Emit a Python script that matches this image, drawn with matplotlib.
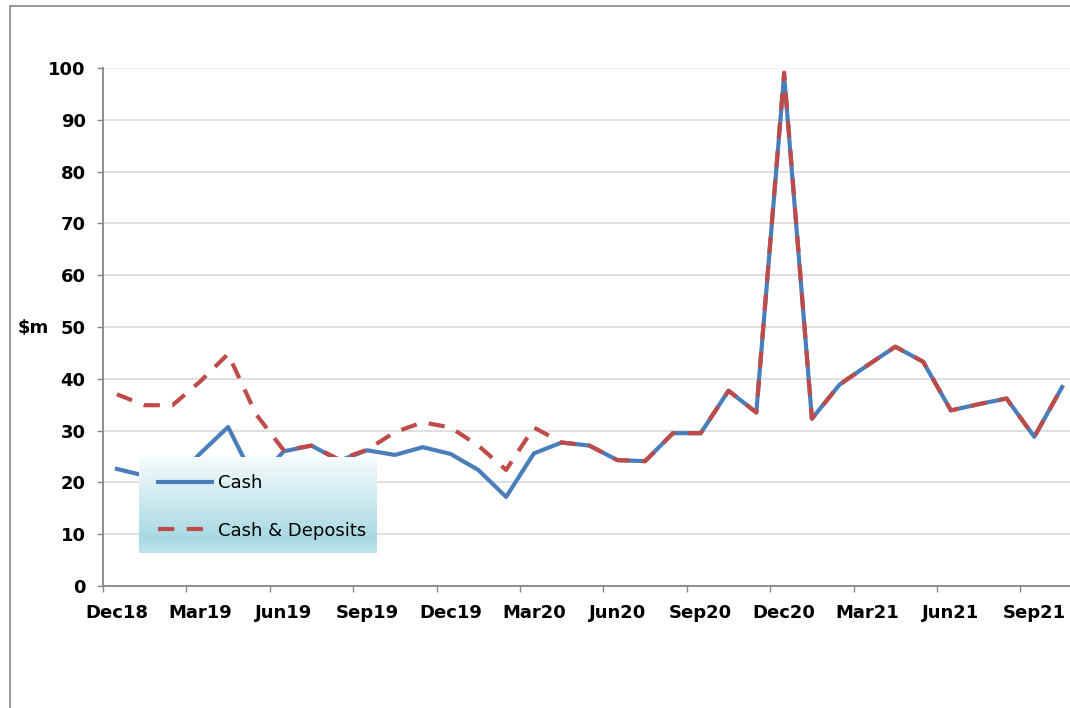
import matplotlib.pyplot as plt
import numpy as np
from matplotlib.lines import Line2D

# monthly data, Dec18 .. Oct21
months = ['Dec18', 'Jan19', 'Feb19', 'Mar19', 'Apr19', 'May19', 'Jun19', 'Jul19', 'Aug19',
          'Sep19', 'Oct19', 'Nov19', 'Dec19', 'Jan20', 'Feb20', 'Mar20', 'Apr20', 'May20',
          'Jun20', 'Jul20', 'Aug20', 'Sep20', 'Oct20', 'Nov20', 'Dec20', 'Jan21', 'Feb21',
          'Mar21', 'Apr21', 'May21', 'Jun21', 'Jul21', 'Aug21', 'Sep21', 'Oct21']
cash = [22.6, 21.3, 20.2, 25.6, 30.7, 20.0, 26.0, 27.1, 24.2, 26.2, 25.3, 26.8, 25.5,
        22.4, 17.2, 25.6, 27.7, 27.1, 24.3, 24.1, 29.5, 29.5, 37.7, 33.5, 98.6, 32.3,
        38.9, 42.6, 46.2, 43.3, 33.9, 35.1, 36.2, 28.8, 38.4]
cash_dep = [37.0, 34.9, 34.9, 39.5, 44.8, 33.2, 26.2, 27.1, 24.4, 26.3, 29.7, 31.6, 30.6,
            27.1, 22.4, 30.6, 27.7, 27.1, 24.3, 24.1, 29.5, 29.5, 37.7, 33.5, 99.1, 32.3,
            38.9, 42.6, 46.2, 43.3, 33.9, 35.1, 36.2, 28.8, 38.4]
tick_labels = ['Dec18', 'Mar19', 'Jun19', 'Sep19', 'Dec19', 'Mar20', 'Jun20', 'Sep20',
               'Dec20', 'Mar21', 'Jun21', 'Sep21']

W, H = 1070, 708
fig = plt.figure(figsize=(W / 100, H / 100), dpi=100)
fig.patch.set_facecolor('white')

# outer chart-area border (left and top only visible)
fig.add_artist(Line2D([10 / W, 10 / W, 1], [0, 1 - 6 / H, 1 - 6 / H],
                      transform=fig.transFigure, color='#8f8f8f', lw=1.3))

ax = fig.add_axes([103 / W, 1 - 586 / H, 973 / W, 518 / H])
x = np.arange(len(months)) + 0.5
ax.plot(x, cash, color='#4a7ebb', lw=3, label='Cash', zorder=3)
ax.plot(x, cash_dep, color='#be4b48', lw=3, dashes=(3.9, 3.0), label='Cash & Deposits', zorder=4)

ax.set_xlim(0, len(months))
ax.set_ylim(0, 100)
ax.set_yticks(range(0, 101, 10))
# labels sit on the first month of each quarter, tick marks on the boundaries
ax.set_xticks(np.arange(0, 34, 3) + 0.5)
ax.set_xticklabels(tick_labels)
ax.set_xticks(range(0, 34, 3), minor=True)
for lab in ax.get_xticklabels() + ax.get_yticklabels():
    lab.set_fontweight('bold')
    lab.set_fontsize(13)
ax.tick_params(axis='x', which='major', length=0, pad=13)
ax.tick_params(axis='x', which='minor', direction='out', length=4.5, color='#868686', width=1)
ax.tick_params(axis='y', direction='out', length=4.5, color='#868686', width=1, pad=8)

ax.grid(axis='y', color='#d9d9d9', lw=1.2)
ax.yaxis.get_gridlines()[-1].set_color('#eef2f7')
ax.set_axisbelow(True)
for s in ['top', 'right']:
    ax.spines[s].set_visible(False)
for s in ['left', 'bottom']:
    ax.spines[s].set_color('#868686')
    ax.spines[s].set_linewidth(1.3)

fig.text(18 / W, 1 - 328 / H, '$m', fontsize=13, fontweight='bold', va='center', ha='left')

# legend box with gradient fill
lx0, ly0, lx1, ly1 = 139, 457, 377, 553
lax = fig.add_axes([lx0 / W, 1 - ly1 / H, (lx1 - lx0) / W, (ly1 - ly0) / H], zorder=5)
top = np.array([0.96, 0.985, 0.99])
mid = np.array([0.66, 0.85, 0.89])
t = np.linspace(0, 1, 100)[:, None]
grad = np.where(t < 0.85, t / 0.85, 1 - (t - 0.85) / 0.15 * 0.3)
img = top + (mid - top) * grad
lax.imshow(img[:, None, :].repeat(2, axis=1), aspect='auto', extent=[0, 1, 0, 1])
lax.set_axis_off()

handles, labels = ax.get_legend_handles_labels()
leg = fig.legend(handles, labels, loc='upper left',
                 bbox_to_anchor=(142 / W, 1 - 458 / H), frameon=False,
                 fontsize=13, handlelength=3.0, labelspacing=1.63, handletextpad=0.3)
leg.set_zorder(6)

fig.savefig('out.png', dpi=100)
